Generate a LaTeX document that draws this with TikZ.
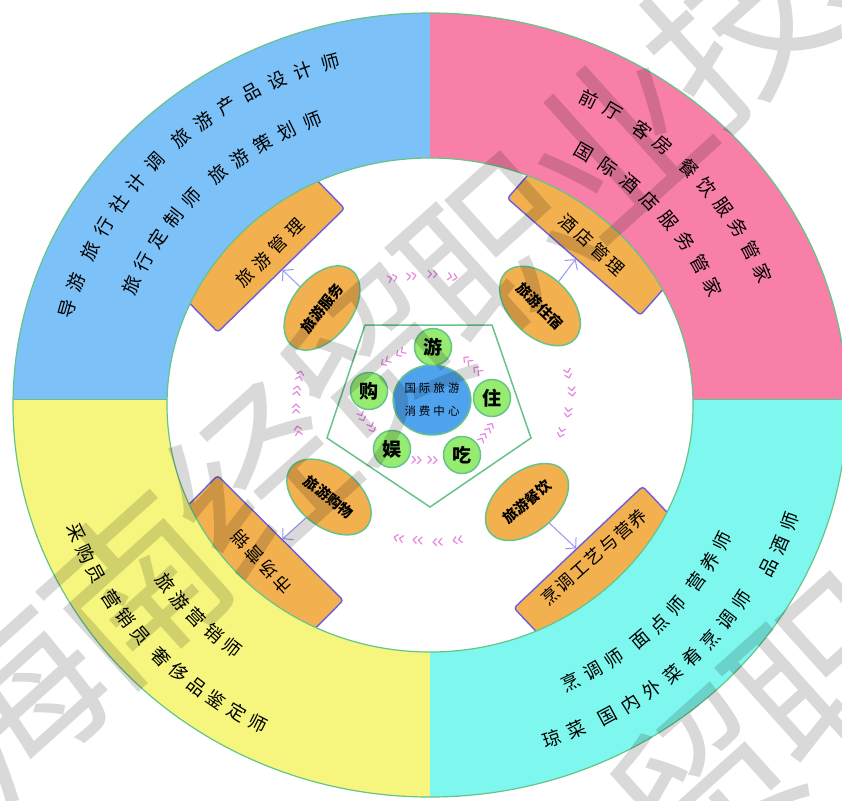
\documentclass[tikz,border=0pt]{standalone}
\usepackage{fontspec}
\newfontfamily\cjk{Noto Sans CJK SC}
\usetikzlibrary{shapes.geometric,arrows.meta}
\definecolor{ringblue}{RGB}{124,193,247}
\definecolor{ringpink}{RGB}{247,127,168}
\definecolor{ringyellow}{RGB}{246,246,126}
\definecolor{ringcyan}{RGB}{126,247,238}
\definecolor{boxorange}{RGB}{242,176,79}
\definecolor{boxedge}{RGB}{105,95,225}
\definecolor{lgreen}{RGB}{102,196,138}
\definecolor{circgreen}{RGB}{150,236,112}
\definecolor{centerblue}{RGB}{79,163,238}
\definecolor{arrowc}{RGB}{155,150,240}
\definecolor{chevc}{RGB}{232,135,225}
\tikzset{
  ringtxt/.style={font=\cjk\fontsize{18.5}{18.5}\selectfont, inner sep=0pt, text=black},
  boxnode/.style={draw=boxedge, fill=boxorange, line width=1.4pt, rounded corners=3pt, minimum width=177pt, minimum height=80pt, inner sep=0pt},
  boxtxt/.style={font=\cjk\fontsize{17.5}{17.5}\selectfont, inner sep=0pt},
  oval/.style={ellipse, draw=lgreen, fill=boxorange, line width=1.5pt, minimum width=96pt, minimum height=60pt, inner sep=0pt, font=\cjk\bfseries\fontsize{14.5}{14.5}\selectfont},
  gcirc/.style={circle, draw=lgreen, fill=circgreen, line width=1.5pt, minimum size=37pt, inner sep=0pt, font=\cjk\bfseries\fontsize{19}{19}\selectfont},
  hub/.style={ellipse, draw=lgreen, fill=centerblue, line width=1.5pt, minimum width=75pt, minimum height=70pt, inner sep=0pt, align=center, font=\cjk\fontsize{11.5}{23}\selectfont},
  arr/.style={draw=arrowc, line width=1pt, -{Straight Barb[length=7pt,width=16pt]}},
  wm/.style={font=\cjk\fontsize{175}{175}\selectfont, text=black, text opacity=0.15, inner sep=0pt},
  chev/.pic={\draw[chevc, line width=1.2pt, line cap=round, line join=round] (-5,3.5)--(-1.5,0)--(-5,-3.5) (0.5,3.5)--(4,0)--(0.5,-3.5);}
}
% #1 radius, #2 start angle, #3 step, #4 rotation offset, #5 index/char list
\newcommand\myringline[5]{%
  \foreach \i/\c in {#5}{%
    \pgfmathsetmacro\ang{#2+(#3)*\i}%
    \node[ringtxt, rotate=\ang#4] at ({430+1.062*#1*cos(\ang)},{405-#1*sin(\ang)}) {\c};
  }%
}
\begin{document}
\begin{tikzpicture}[x=1pt,y=-1pt]
\useasboundingbox (0,0) rectangle (842,800);
\fill[white] (0,0) rectangle (842,800);
\begin{scope}
\clip (0,0) rectangle (842,800);
% boxes (under the ring)
\node[boxnode, rotate=44.3] (bguide) at (253.2,241.7) {};
\node[boxnode, rotate=-41.3] (bhotel) at (600.3,226.7) {};
\node[boxnode, rotate=-44.8] (bmarket) at (252.2,566.3) {};
\node[boxnode, rotate=43.4] (bcook) at (605.8,576.3) {};
% ring
\foreach \col/\xa/\ya/\xb/\yb in {ringblue/0/0/430/399, ringpink/430/0/842/399, ringyellow/0/399/430/800, ringcyan/430/399/842/800}{
  \begin{scope}
  \clip (\xa,\ya) rectangle (\xb,\yb);
  \fill[\col, even odd rule] (430,405) ellipse[x radius=417pt, y radius=392pt] (430,405) ellipse[x radius=263pt, y radius=247pt];
  \end{scope}
}
\draw[lgreen, line width=1.2pt] (430,405) ellipse[x radius=417pt, y radius=392pt];
\draw[lgreen, line width=1.2pt] (430,405) ellipse[x radius=263pt, y radius=247pt];
\draw[lgreen, line width=0.6pt] (13,399) -- (167,399) (693,399) -- (842,399);
% ring texts
\myringline{355}{164.2}{-4.331}{-90}{0/导,1/游,2.3/旅,3.3/行,4.3/社,5.3/计,6.3/调,7.6/旅,8.6/游,9.6/产,10.6/品,11.6/设,12.6/计,13.6/师}
\myringline{305}{156.9}{-4.903}{-90}{0/旅,1/行,2/定,3/制,4/师,5.3/旅,6.3/游,7.3/策,8.3/划,9.3/师}
\myringline{340}{63.9}{-4.281}{-90}{0/前,1/厅,2.3/客,3.3/房,4.6/餐,5.6/饮,6.6/服,7.6/务,8.6/管,9.6/家}
\myringline{291}{60.1}{-5.186}{-90}{0/国,1/际,2/酒,3/店,4/服,5/务,6/管,7/家}
\myringline{357}{201}{3.621}{+90}{0/采,1/购,2/员,3.3/营,4.3/销,5.3/员,6.6/奢,7.6/侈,8.6/品,9.6/鉴,10.6/定,11.6/师}
\myringline{306}{215.5}{4.25}{+90}{0/旅,1/游,2/营,3/销,4/师}
\myringline{307}{295.6}{4.419}{+90}{0/烹,1/调,2/师,3.3/面,4.3/点,5.3/师,6.6/营,7.6/养,8.6/师}
\myringline{353}{289}{4.022}{+90}{0/琼,1/菜,2.3/国,3.3/内,4.3/外,5.3/菜,6.3/肴,7.3/烹,8.3/调,9.3/师}
\myringline{358}{333}{4}{+90}{0/品,1/酒,2/师}
% box texts
\node[boxtxt, rotate=45] (tguide) at (270,253) {旅\hspace{6pt}游\hspace{6pt}管\hspace{6pt}理};
\node[boxtxt, rotate=-42] (thotel) at (592,245) {酒\hspace{4pt}店\hspace{4pt}管\hspace{4pt}理};
\node[boxtxt, rotate=133] (tmarket) at (262,562) {市\hspace{3pt}场\hspace{3pt}营\hspace{3pt}销};
\node[boxtxt, rotate=41.5] (tcook) at (594,557) {烹\hspace{2pt}调\hspace{2pt}工\hspace{2pt}艺\hspace{2pt}与\hspace{2pt}营\hspace{2pt}养};
% ovals
\node[oval, rotate=52] (esvc) at (322,308) {旅游服务};
\node[oval, rotate=-44] (estay) at (540,306) {旅游住宿};
\node[oval, rotate=-38] (eshop) at (329,497) {旅游购物};
\node[oval, rotate=40] (edine) at (527,502) {旅游餐饮};
\draw[arr] (esvc) -- (bguide);
\draw[arr] (estay) -- (bhotel);
\draw[arr] (eshop) -- (bmarket);
\draw[arr] (edine) -- (bcook);
% outer chevrons
\foreach \x/\y/\r in {393/278/15, 412/276/7, 433/274/-1, 453/277/-10,
  568/374/-77, 572/392/-85, 568/413/-97, 561/433/-105,
  457/540/191, 437/542/183, 417/540/175, 398/538/167,
  298/430/101, 296/408/91, 297/390/83, 300/375/76}{
  \pic[rotate=\r] at (\x,\y) {chev};
}
% pentagon and hub
\draw[lgreen, line width=1.5pt, fill=white] (365,325) -- (492,325) -- (531,438) -- (430,507) -- (327,438) -- cycle;
\node[hub] (hub) at (432,400) {国\hspace{3pt}际\hspace{3pt}旅\hspace{3pt}游\\消\hspace{3pt}费\hspace{3pt}中\hspace{3pt}心};
\node[gcirc] (cyou) at (433,347) {游};
\node[gcirc] (czhu) at (492,398) {住};
\node[gcirc] (cchi) at (462,455) {吃};
\node[gcirc] (cyu) at (392,449) {娱};
\node[gcirc] (cgou) at (369,391) {购};
\foreach \x/\y/\r in {400/353/213, 385/362/213, 477/370/140, 467/360/140,
  483/437/61, 490/427/61, 417/460/-4, 433/460/-4, 362/417/-68, 372/428/-68}{
  \pic[rotate=\r] at (\x,\y) {chev};
}
% watermark
\foreach \k/\c in {0/海,1/南,2/经,3/贸,4/职,5/业,6/技,7/术}{
  \node[wm, rotate=42] (wa\k) at ({15+120*\k},{700-112*\k}) {\c};
  \node[wm, rotate=42] (wb\k) at ({345+120*\k},{1120-112*\k}) {\c};
}
\end{scope}
\end{tikzpicture}
\end{document}
